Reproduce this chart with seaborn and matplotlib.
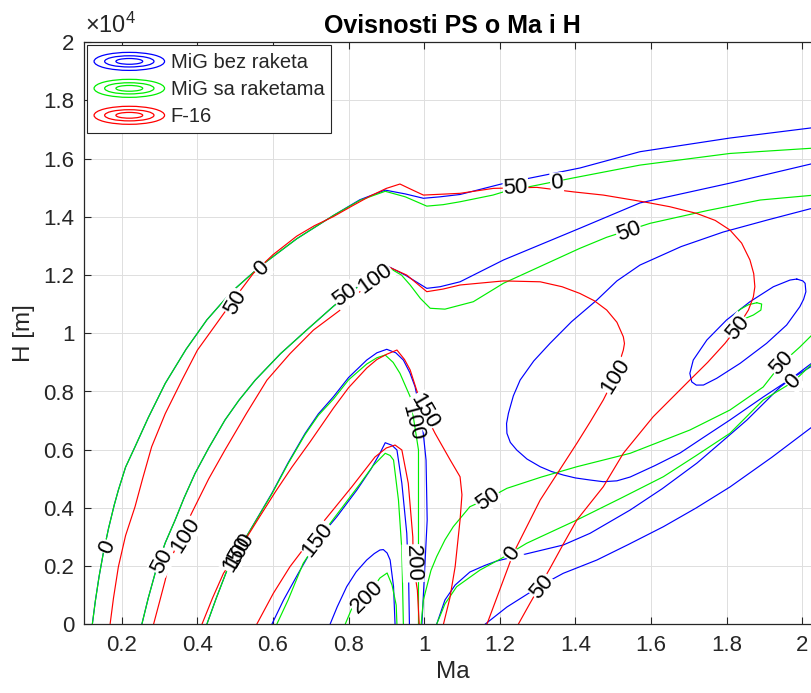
import matplotlib
matplotlib.use("Agg")
import matplotlib.pyplot as plt
import pandas as pd
import seaborn as sns
from matplotlib.legend_handler import HandlerBase
from matplotlib.lines import Line2D
from matplotlib.patches import Ellipse

# contour lines, (Ma, H [m]) pairs
# MiG bez raketa (blue)
mig_0_top = [(0.122, 0), (0.13, 800), (0.14, 1650), (0.151, 2440), (0.165, 3300), (0.18, 4100),
             (0.191, 4615), (0.21, 5400), (0.235, 6100), (0.27, 7100), (0.315, 8280), (0.37, 9450),
             (0.425, 10460), (0.49, 11420), (0.566, 12300), (0.663, 13250), (0.76, 14050), (0.83, 14590),
             (0.897, 14920), (0.95, 14790), (0.998, 14640), (1.042, 14690), (1.095, 14770), (1.21, 15150),
             (1.412, 15680), (1.571, 16240), (1.809, 16710), (2.05, 17100)]
mig_50_top = [(0.253, 0), (0.27, 900), (0.293, 1980), (0.315, 2800), (0.341, 3580), (0.365, 4350),
              (0.394, 5190), (0.43, 6060), (0.473, 7020), (0.51, 7700), (0.553, 8390), (0.62, 9300),
              (0.689, 10110), (0.76, 10930), (0.813, 11490), (0.85, 11850), (0.897, 12350), (0.95, 12000),
              (1.007, 11545), (1.042, 11600), (1.095, 11770), (1.21, 12520), (1.412, 13610), (1.571, 14480),
              (1.809, 15160), (2.05, 15900)]
mig_100_arc = [(0.425, 0), (0.45, 900), (0.482, 1980), (0.535, 3130), (0.597, 4500), (0.64, 5550),
               (0.685, 6560), (0.72, 7230), (0.76, 7820), (0.80, 8480), (0.848, 9080), (0.875, 9330),
               (0.901, 9450), (0.925, 9330), (0.945, 9080), (0.962, 8650), (0.976, 8160), (0.994, 7020),
               (1.005, 5645), (1.008, 3584), (1.0, 1520), (0.994, 0)]
mig_150_arc = [(0.597, 0), (0.628, 835), (0.667, 1752), (0.718, 2906), (0.769, 3697), (0.822, 4615),
               (0.86, 5350), (0.883, 5876), (0.897, 6240), (0.915, 6150), (0.928, 5989), (0.941, 4845),
               (0.954, 3127), (0.959, 1522), (0.961, 0)]
mig_200_arc = [(0.751, 0), (0.77, 600), (0.795, 1292), (0.82, 1800), (0.848, 2209), (0.868, 2430),
               (0.883, 2553), (0.892, 2567), (0.902, 2450), (0.910, 2209), (0.919, 1292), (0.923, 0)]
mig_0_low = [(1.161, 0), (1.219, 594), (1.311, 1350), (1.368, 1752), (1.457, 2209), (1.54, 2740),
             (1.633, 3354), (1.72, 4000), (1.809, 4718), (1.92, 5740), (2.026, 6779), (2.05, 7000)]
mig_50_low = [(1.033, 0), (1.055, 835), (1.082, 1350), (1.121, 1797), (1.16, 2020), (1.192, 2175),
              (1.28, 2450), (1.368, 2725), (1.439, 3127), (1.545, 3927), (1.63, 4660), (1.722, 5542),
              (1.79, 6300), (1.854, 7020), (1.942, 8154), (2.026, 8978), (2.05, 9220)]
mig_100_u = [(2.05, 14230), (2.026, 14294), (1.91, 13900), (1.791, 13479), (1.68, 12980), (1.571, 12345),
             (1.51, 11800), (1.457, 11143), (1.39, 10400), (1.333, 9655), (1.29, 9050), (1.254, 8394),
             (1.236, 7850), (1.223, 7250), (1.218, 6900), (1.219, 6563), (1.228, 6250), (1.245, 5989),
             (1.272, 5680), (1.307, 5415), (1.337, 5250), (1.368, 5130), (1.40, 5030), (1.439, 4958),
             (1.474, 4900), (1.51, 4930), (1.545, 5061), (1.61, 5450), (1.677, 5886), (1.74, 6430),
             (1.809, 7020), (1.897, 7810), (1.96, 8350), (2.026, 8875), (2.05, 9060)]
mig_150_loop = [(1.986, 11865), (2.002, 11800), (2.008, 11717), (2.010, 11428), (2.004, 11170),
                (1.994, 10913), (1.959, 10284), (1.906, 9655), (1.836, 8968), (1.774, 8453), (1.739, 8222),
                (1.72, 8220), (1.708, 8330), (1.703, 8624), (1.712, 9081), (1.748, 9769), (1.800, 10456),
                (1.862, 11085), (1.924, 11600), (1.968, 11830), (1.986, 11865)]

# MiG sa raketama (green)
migr_0_top = [(0.122, 0), (0.13, 800), (0.14, 1650), (0.151, 2440), (0.165, 3300), (0.18, 4100),
              (0.191, 4615), (0.21, 5400), (0.235, 6100), (0.27, 7100), (0.315, 8280), (0.37, 9450),
              (0.425, 10460), (0.49, 11420), (0.566, 12300), (0.663, 13250), (0.76, 14050), (0.83, 14570),
              (0.897, 14880), (0.95, 14690), (1.007, 14370), (1.05, 14420), (1.095, 14520), (1.182, 14750),
              (1.21, 14860), (1.391, 15330), (1.571, 15780), (1.809, 16180), (2.05, 16380)]
migr_50_top = [(0.253, 0), (0.27, 900), (0.293, 1980), (0.315, 2800), (0.341, 3580), (0.365, 4350),
               (0.394, 5190), (0.43, 6060), (0.473, 7020), (0.51, 7700), (0.553, 8390), (0.62, 9300),
               (0.689, 10110), (0.76, 10930), (0.813, 11490), (0.86, 11880), (0.91, 12230), (0.94, 12000),
               (0.963, 11660), (0.99, 11200), (1.016, 10860), (1.055, 10830), (1.13, 11085), (1.21, 11720),
               (1.412, 12920), (1.483, 13300), (1.598, 13780), (1.75, 14220), (1.889, 14580), (2.05, 14770)]
migr_100_arc = [(0.425, 0), (0.45, 900), (0.482, 1980), (0.535, 3130), (0.597, 4477), (0.64, 5520),
                (0.685, 6522), (0.72, 7180), (0.76, 7741), (0.80, 8400), (0.848, 8944), (0.875, 9160),
                (0.897, 9253), (0.918, 9000), (0.936, 8624), (0.963, 7820), (0.985, 5989), (0.985, 3584),
                (0.985, 0)]
migr_150_arc = [(0.610, 0), (0.640, 835), (0.680, 2096), (0.738, 3240), (0.778, 3927), (0.83, 4821),
                (0.865, 5450), (0.897, 5876), (0.91, 5800), (0.919, 5645), (0.932, 4271), (0.941, 2553),
                (0.945, 0)]
migr_200_arc = [(0.791, 0), (0.809, 560), (0.848, 948), (0.883, 1591), (0.902, 1763), (0.915, 1350),
                (0.926, 663), (0.928, 0)]
migr_0_low = [(1.033, 0), (1.055, 700), (1.086, 1292), (1.148, 1866), (1.205, 2268), (1.271, 2783),
              (1.404, 3584), (1.52, 4330), (1.633, 5072), (1.72, 5800), (1.809, 6563), (1.897, 7707),
              (1.977, 8336), (2.026, 8944), (2.05, 9240)]
migr_50_low = [(0.992, 0), (0.998, 835), (1.007, 1292), (1.018, 1850), (1.033, 2323), (1.055, 2900),
               (1.077, 3354), (1.121, 4041), (1.17, 4329), (1.219, 4673), (1.31, 5060), (1.404, 5415),
               (1.545, 5876), (1.703, 6676), (1.809, 7363), (1.897, 8154), (1.946, 8968), (1.994, 9528),
               (2.026, 9940), (2.05, 10200)]
migr_100_loop = [(1.880, 11050), (1.893, 11006), (1.891, 10799), (1.871, 10628), (1.844, 10480),
                 (1.823, 10456), (1.818, 10593), (1.836, 10823), (1.858, 10982), (1.880, 11050)]

# F-16 (red)
f16_50 = [(0.169, 0), (0.178, 900), (0.191, 1980), (0.21, 3050), (0.235, 4040), (0.255, 5000),
          (0.279, 6100), (0.315, 7240), (0.359, 8390), (0.40, 9420), (0.451, 10340), (0.50, 11230),
          (0.548, 12060), (0.60, 12700), (0.663, 13340), (0.71, 13700), (0.759, 14005), (0.81, 14380),
          (0.857, 14716), (0.90, 14980), (0.936, 15130), (0.965, 14950), (0.998, 14750), (1.095, 14810),
          (1.183, 14980), (1.298, 15015), (1.395, 14860), (1.474, 14750), (1.58, 14520), (1.65, 14350),
          (1.721, 14120), (1.77, 13880), (1.809, 13550), (1.84, 13100), (1.862, 12520), (1.872, 12050),
          (1.875, 11600), (1.871, 11250), (1.858, 10800), (1.83, 10220), (1.796, 9655), (1.75, 9000),
          (1.703, 8394), (1.606, 7133), (1.527, 5876), (1.474, 4728), (1.404, 3584), (1.37, 2800),
          (1.333, 1924), (1.28, 722), (1.249, 0)]
f16_100 = [(0.284, 0), (0.3, 780), (0.315, 1520), (0.323, 1980), (0.35, 2900), (0.389, 3930),
           (0.43, 5000), (0.473, 5990), (0.53, 7250), (0.584, 8390), (0.645, 9300), (0.707, 10110),
           (0.778, 10800), (0.84, 11550), (0.901, 12310), (0.954, 12000), (1.007, 11430), (1.05, 11520),
           (1.095, 11660), (1.21, 11800), (1.307, 11770), (1.365, 11600), (1.412, 11370), (1.45, 11120),
           (1.483, 10800), (1.51, 10380), (1.527, 9880), (1.53, 9650), (1.527, 9425), (1.505, 8510),
           (1.474, 7710), (1.44, 6970), (1.404, 6220), (1.307, 4270), (1.236, 2440), (1.166, 0)]
f16_150 = [(0.412, 0), (0.44, 900), (0.469, 1750), (0.513, 2620), (0.56, 3600), (0.606, 4545),
           (0.65, 5400), (0.698, 6265), (0.760, 7430), (0.80, 8130), (0.848, 8805), (0.875, 9100),
           (0.901, 9280), (0.928, 9425), (0.948, 9100), (0.963, 8740), (0.98, 8050), (1.0, 7300),
           (1.029, 6560), (1.069, 5645), (1.095, 5070), (1.100, 4450), (1.095, 3584), (1.082, 1980),
           (1.068, 900), (1.051, 0)]
f16_200 = [(0.557, 0), (0.601, 1065), (0.645, 1980), (0.69, 2750), (0.730, 3470), (0.809, 4730),
           (0.870, 5750), (0.90, 6060), (0.923, 6160), (0.941, 5990), (0.958, 4845), (0.970, 3000),
           (0.971, 2100), (0.982, 1180), (0.987, 0)]

aircraft = ["MiG bez raketa", "MiG sa raketama", "F-16"]
colors = ["#0000ff", "#00ee00", "#ff0000"]
curves = {
    "MiG bez raketa": [mig_0_top, mig_50_top, mig_100_arc, mig_150_arc, mig_200_arc,
                       mig_0_low, mig_50_low, mig_100_u, mig_150_loop],
    "MiG sa raketama": [migr_0_top, migr_50_top, migr_100_arc, migr_150_arc, migr_200_arc,
                        migr_0_low, migr_50_low, migr_100_loop],
    "F-16": [f16_50, f16_100, f16_150, f16_200],
}

# contour labels: text, Ma, H, rotation, white gap behind it
lab_text = ["0", "50", "100", "150", "100", "150", "200", "200", "150", "100", "50", "100",
            "50", "0", "50", "0", "50", "100", "50", "50", "0", "50", "0", "50"]
lab_ma = [0.162, 0.306, 0.368, 0.503, 0.512, 0.718, 0.848, 0.971, 1.000, 0.969, 0.791, 0.870,
          0.500, 0.570, 1.242, 1.351, 1.542, 1.507, 1.829, 1.946, 1.977, 1.168, 1.232, 1.311]
lab_h = [2650, 2160, 3070, 2400, 2560, 2906, 948, 2096, 7330, 6934, 11315, 11865,
         11057, 12208, 14981, 15153, 13479, 8538, 10198, 8968, 8336, 4305, 2415, 1299]
lab_rot = [68, 62, 58, 60, 60, 52, 45, -88, -60, -75, 36, 36,
           60, 45, 3, 5, 20, 58, 50, 47, 48, 35, 55, 50]
lab_gap = [True, True, True, True, False, True, True, True, True, False, True, True,
           True, True, True, True, True, True, True, True, True, True, True, True]

xtick_vals = [0.2, 0.4, 0.6, 0.8, 1.0, 1.2, 1.4, 1.6, 1.8, 2.0]
xtick_labels = ["0.2", "0.4", "0.6", "0.8", "1", "1.2", "1.4", "1.6", "1.8", "2"]
ytick_vals = [0, 2000, 4000, 6000, 8000, 10000, 12000, 14000, 16000, 18000, 20000]
ytick_labels = ["0", "0.2", "0.4", "0.6", "0.8", "1", "1.2", "1.4", "1.6", "1.8", "2"]

rows = []
cid = 0
for name in aircraft:
    for c in curves[name]:
        for m, h in c:
            rows.append({"Ma": m, "H": h, "aircraft": name, "curve": cid})
        cid += 1
df = pd.DataFrame(rows)

sns.set_style("ticks")
plt.rcParams["font.family"] = ["Liberation Sans", "DejaVu Sans"]
plt.rcParams["mathtext.fontset"] = "custom"
plt.rcParams["mathtext.rm"] = "Liberation Sans"
plt.rcParams["mathtext.it"] = "Liberation Sans"

fig = plt.figure(figsize=(8.12, 6.93), dpi=100)
ax = fig.add_axes([84 / 812, 68.7 / 693, 737 / 812, 582 / 693])

sns.lineplot(data=df, x="Ma", y="H", hue="aircraft", units="curve", estimator=None, sort=False,
             hue_order=aircraft, palette=dict(zip(aircraft, colors)), linewidth=0.85,
             legend=False, ax=ax)

for t, m, h, r, g in zip(lab_text, lab_ma, lab_h, lab_rot, lab_gap):
    box = dict(facecolor="white", edgecolor="none", pad=0.3) if g else None
    ax.text(m, h, t, rotation=r, rotation_mode="anchor", ha="center", va="center", fontsize=16,
            color="black", zorder=5, bbox=box)

ax.set_xlim(0.1, 2.05)
ax.set_ylim(0, 20000)
ax.set_xticks(xtick_vals)
ax.set_xticklabels(xtick_labels)
ax.set_yticks(ytick_vals)
ax.set_yticklabels(ytick_labels)
ax.grid(True, color="#dedede", linewidth=0.7)
ax.set_axisbelow(True)
ax.tick_params(axis="both", which="both", direction="in", top=True, right=True, length=5,
               width=0.8, color="#262626", labelcolor="#262626", labelsize=16)
ax.tick_params(axis="x", pad=8)
ax.tick_params(axis="y", pad=7)
for s in ax.spines.values():
    s.set_color("#262626")
    s.set_linewidth(0.9)

ax.set_xlabel("Ma", fontsize=17.5, color="#262626", labelpad=3)
ax.set_ylabel("H [m]", fontsize=17.5, color="#262626", labelpad=6)
ax.set_title("Ovisnosti PS o Ma i H", fontsize=18, fontweight="bold", color="black", pad=7)
ax.annotate(r"$\times10^{4}$", xy=(0, 1), xycoords="axes fraction", xytext=(1, 3),
            textcoords="offset points", ha="left", va="bottom", fontsize=17, color="#262626")


class ContourHandler(HandlerBase):
    def create_artists(self, legend, orig_handle, xdescent, ydescent, width, height, fontsize, trans):
        col = orig_handle.get_color()
        cx = width / 2 - xdescent
        cy = height / 2 - ydescent
        arts = []
        for fw, fh in [(1.0, 1.0), (0.7, 0.62), (0.38, 0.32)]:
            e = Ellipse((cx, cy), width * fw, height * fh, fill=False, edgecolor=col, linewidth=0.9)
            e.set_transform(trans)
            arts.append(e)
        return arts


handles = [Line2D([], [], color=c) for c in colors]
leg = ax.legend(handles, aircraft, loc="upper left", bbox_to_anchor=(0, 1), borderaxespad=0.15,
                fontsize=14.5, handlelength=3.5, handleheight=1.0, handletextpad=0.3,
                labelspacing=0.35, borderpad=0.35, fancybox=False, framealpha=1,
                edgecolor="#262626", handler_map={Line2D: ContourHandler()})
leg.get_frame().set_linewidth(0.8)
for t in leg.get_texts():
    t.set_color("#262626")

fig.savefig("out.png", dpi=100)
